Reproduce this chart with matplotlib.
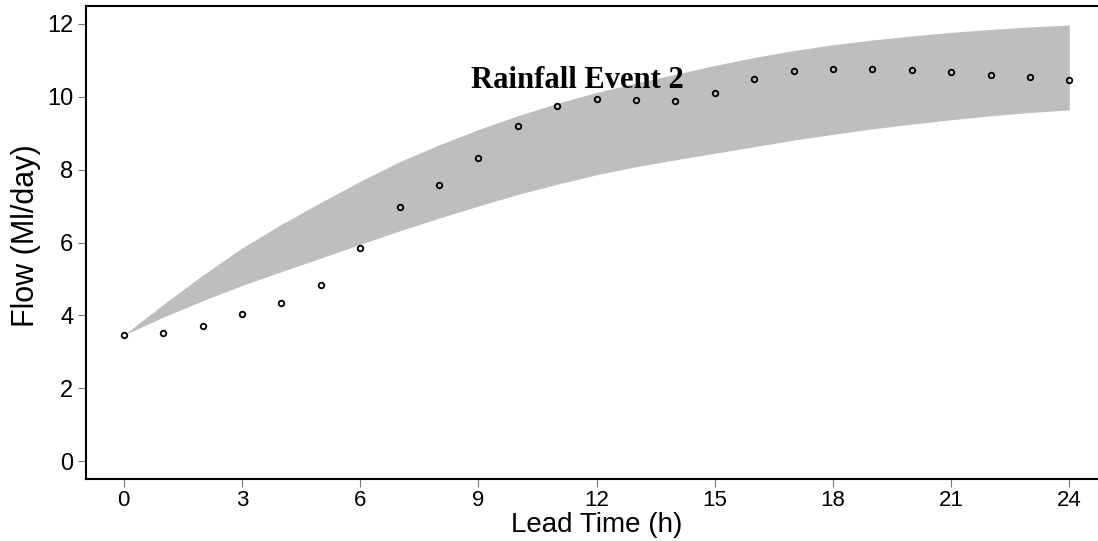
import numpy as np
import matplotlib
matplotlib.use("Agg")
import matplotlib.pyplot as plt

# lead time in hours
lead = list(range(25))

# observed flow (Ml/day)
observed = [3.46, 3.52, 3.70, 4.03, 4.35, 4.84, 5.86, 6.98, 7.58, 8.31, 9.20, 9.74,
            9.93, 9.91, 9.89, 10.11, 10.48, 10.71, 10.76, 10.76, 10.74, 10.69, 10.60,
            10.54, 10.47]

# forecast band edges
band_upper = [3.46, 4.30, 5.10, 5.85, 6.50, 7.10, 7.68, 8.22, 8.68, 9.10, 9.48, 9.82,
              10.12, 10.38, 10.62, 10.86, 11.08, 11.27, 11.43, 11.56, 11.67, 11.77,
              11.85, 11.92, 11.97]
band_lower = [3.46, 3.95, 4.40, 4.82, 5.20, 5.57, 5.95, 6.32, 6.67, 7.00, 7.32, 7.60,
              7.86, 8.08, 8.27, 8.45, 8.63, 8.81, 8.97, 9.12, 9.25, 9.37, 9.48, 9.57,
              9.64]

xticks = [0, 3, 6, 9, 12, 15, 18, 21, 24]
yticks = [0, 2, 4, 6, 8, 10, 12]

plt.rcParams['font.family'] = ['Liberation Sans', 'DejaVu Sans']

fig = plt.figure(figsize=(10.98, 5.41), dpi=100)
ax = fig.add_axes([0.0783, 0.1155, 0.930, 0.8725])

ax.fill_between(lead, band_lower, band_upper, color='#bebebe', linewidth=0)
ax.plot(lead, observed, linestyle='none', marker='o', ms=4, mfc='none',
        mec='black', mew=1.3)

ax.text(11.52, 10.25, "Rainfall Event 2", ha='center', va='baseline',
        fontsize=22, fontweight='bold', family='Liberation Serif')

ax.set_xlim(-0.96, 24.96)
ax.set_ylim(-0.48, 12.48)
ax.set_xticks(xticks)
ax.set_yticks(yticks)
ax.tick_params(labelsize=17, length=6, width=0.8, color='#777777', pad=3)
ax.tick_params(axis='x', labelsize=16, pad=2)

ax.set_xlabel("Lead Time (h)", fontsize=20, labelpad=1)
ax.set_ylabel("Flow (Ml/day)", fontsize=22)
ax.yaxis.set_label_coords(-0.044, 0.515)

for s in ax.spines.values():
    s.set_linewidth(1.5)

fig.savefig("out.png", dpi=100)
